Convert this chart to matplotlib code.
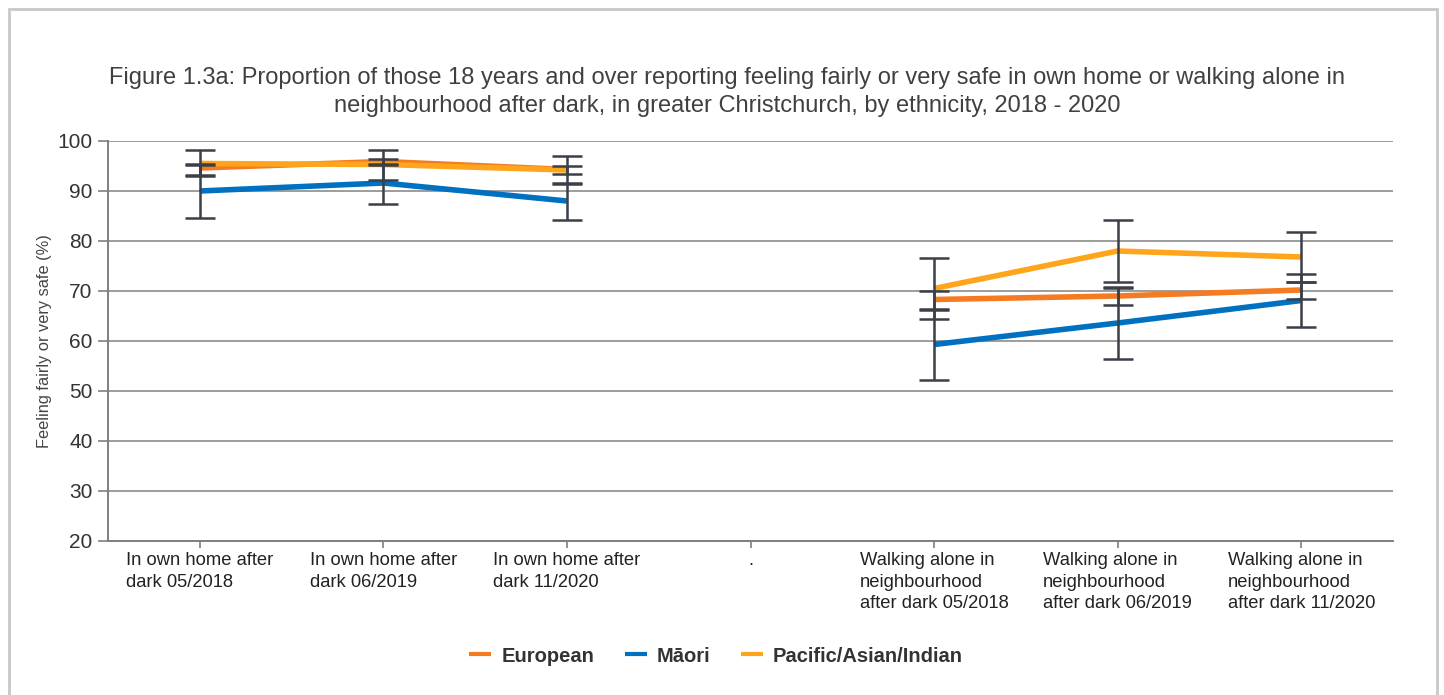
import matplotlib

matplotlib.use("Agg")
import matplotlib.pyplot as plt
import numpy as np
from matplotlib.patches import Rectangle

plt.rcParams["font.family"] = ["Liberation Sans", "DejaVu Sans"]

CATEGORIES = [
    "In own home after\ndark 05/2018",
    "In own home after\ndark 06/2019",
    "In own home after\ndark 11/2020",
    ".",
    "Walking alone in\nneighbourhood\nafter dark 05/2018",
    "Walking alone in\nneighbourhood\nafter dark 06/2019",
    "Walking alone in\nneighbourhood\nafter dark 11/2020",
]
SERIES = ["European", "Māori", "Pacific/Asian/Indian"]
european = [94.6, 95.9, 94.3, np.nan, 68.3, 69.0, 70.2]
european_lo = [93.3, 95.3, 93.5, np.nan, 66.4, 67.3, 68.4]
european_hi = [95.4, 96.5, 95.0, np.nan, 70.1, 70.7, 71.9]
maori = [90.0, 91.6, 88.0, np.nan, 59.3, 63.6, 68.1]
maori_lo = [84.7, 87.5, 84.2, np.nan, 52.3, 56.4, 62.8]
maori_hi = [95.3, 95.5, 91.7, np.nan, 66.2, 70.8, 73.5]
pacific = [95.5, 95.3, 94.2, np.nan, 70.5, 78.0, 76.8]
pacific_lo = [93.1, 92.2, 91.4, np.nan, 64.5, 71.9, 71.8]
pacific_hi = [98.3, 98.3, 97.1, np.nan, 76.7, 84.2, 81.8]
COLORS = ["#F47B20", "#0070C0", "#FFA51C"]
TITLE = ("Figure 1.3a: Proportion of those 18 years and over reporting feeling fairly or very safe in own home or walking alone in\n"
         "neighbourhood after dark, in greater Christchurch, by ethnicity, 2018 - 2020")

fig = plt.figure(figsize=(14.44, 6.95), dpi=100)
fig.patches.append(Rectangle((9 / 1444, -0.01), 1428 / 1444, 1.0 - 9 / 695 + 0.01, transform=fig.transFigure,
                             fill=False, edgecolor="#C8C8C8", linewidth=2))
ax = fig.add_axes([108 / 1444, 1 - 541 / 695, (1393 - 108) / 1444, 400 / 695])
x = np.arange(len(CATEGORIES))

values = [european, maori, pacific]
lows = [european_lo, maori_lo, pacific_lo]
highs = [european_hi, maori_hi, pacific_hi]
for name, vals, lo, hi, col in zip(SERIES, values, lows, highs, COLORS):
    v = np.array(vals); l = np.array(lo); h = np.array(hi)
    ax.plot(x, v, color=col, linewidth=4, label=name, zorder=3, solid_capstyle="butt")
    ax.errorbar(x, v, yerr=[v - l, h - v], fmt="none", ecolor="#3B3F47", elinewidth=1.8, capsize=11, capthick=1.8, zorder=4)

ax.set_xlim(-0.5, len(CATEGORIES) - 0.5)
ax.set_ylim(20, 100)
ax.set_yticks(range(20, 101, 10))
ax.set_xticks(x)
ax.set_xticklabels(CATEGORIES, fontsize=13.2, color="#222222", ha="center", multialignment="left", linespacing=1.35)
ax.tick_params(axis="y", labelsize=15, colors="#7F7F7F", length=7, width=1.2, labelcolor="#333333", pad=4)
ax.tick_params(axis="x", colors="#7F7F7F", length=5, width=1.2, labelcolor="#222222", pad=3)
ax.grid(axis="y", color="#8C8C8C", linewidth=1.2)
ax.set_axisbelow(True)
for side in ("top", "right"):
    ax.spines[side].set_visible(False)
for side in ("left", "bottom"):
    ax.spines[side].set_color("#7F7F7F"); ax.spines[side].set_linewidth(1.4)
ax.set_ylabel("Feeling fairly or very safe (%)", fontsize=11.8, color="#444444", labelpad=4)

fig.text(727 / 1444, 1 - 92 / 695, TITLE, ha="center", va="center", fontsize=17, color="#404040", linespacing=1.4)
leg = fig.legend(loc="center", bbox_to_anchor=(716 / 1444, 1 - 656 / 695), ncol=3, frameon=False,
                 prop={"weight": "bold", "size": 14.5}, handlelength=1.1, columnspacing=1.5, handletextpad=0.5)
for t in leg.get_texts():
    t.set_color("#333333")
for line in leg.get_lines():
    line.set_linewidth(3)

fig.savefig("out.png", dpi=100)
